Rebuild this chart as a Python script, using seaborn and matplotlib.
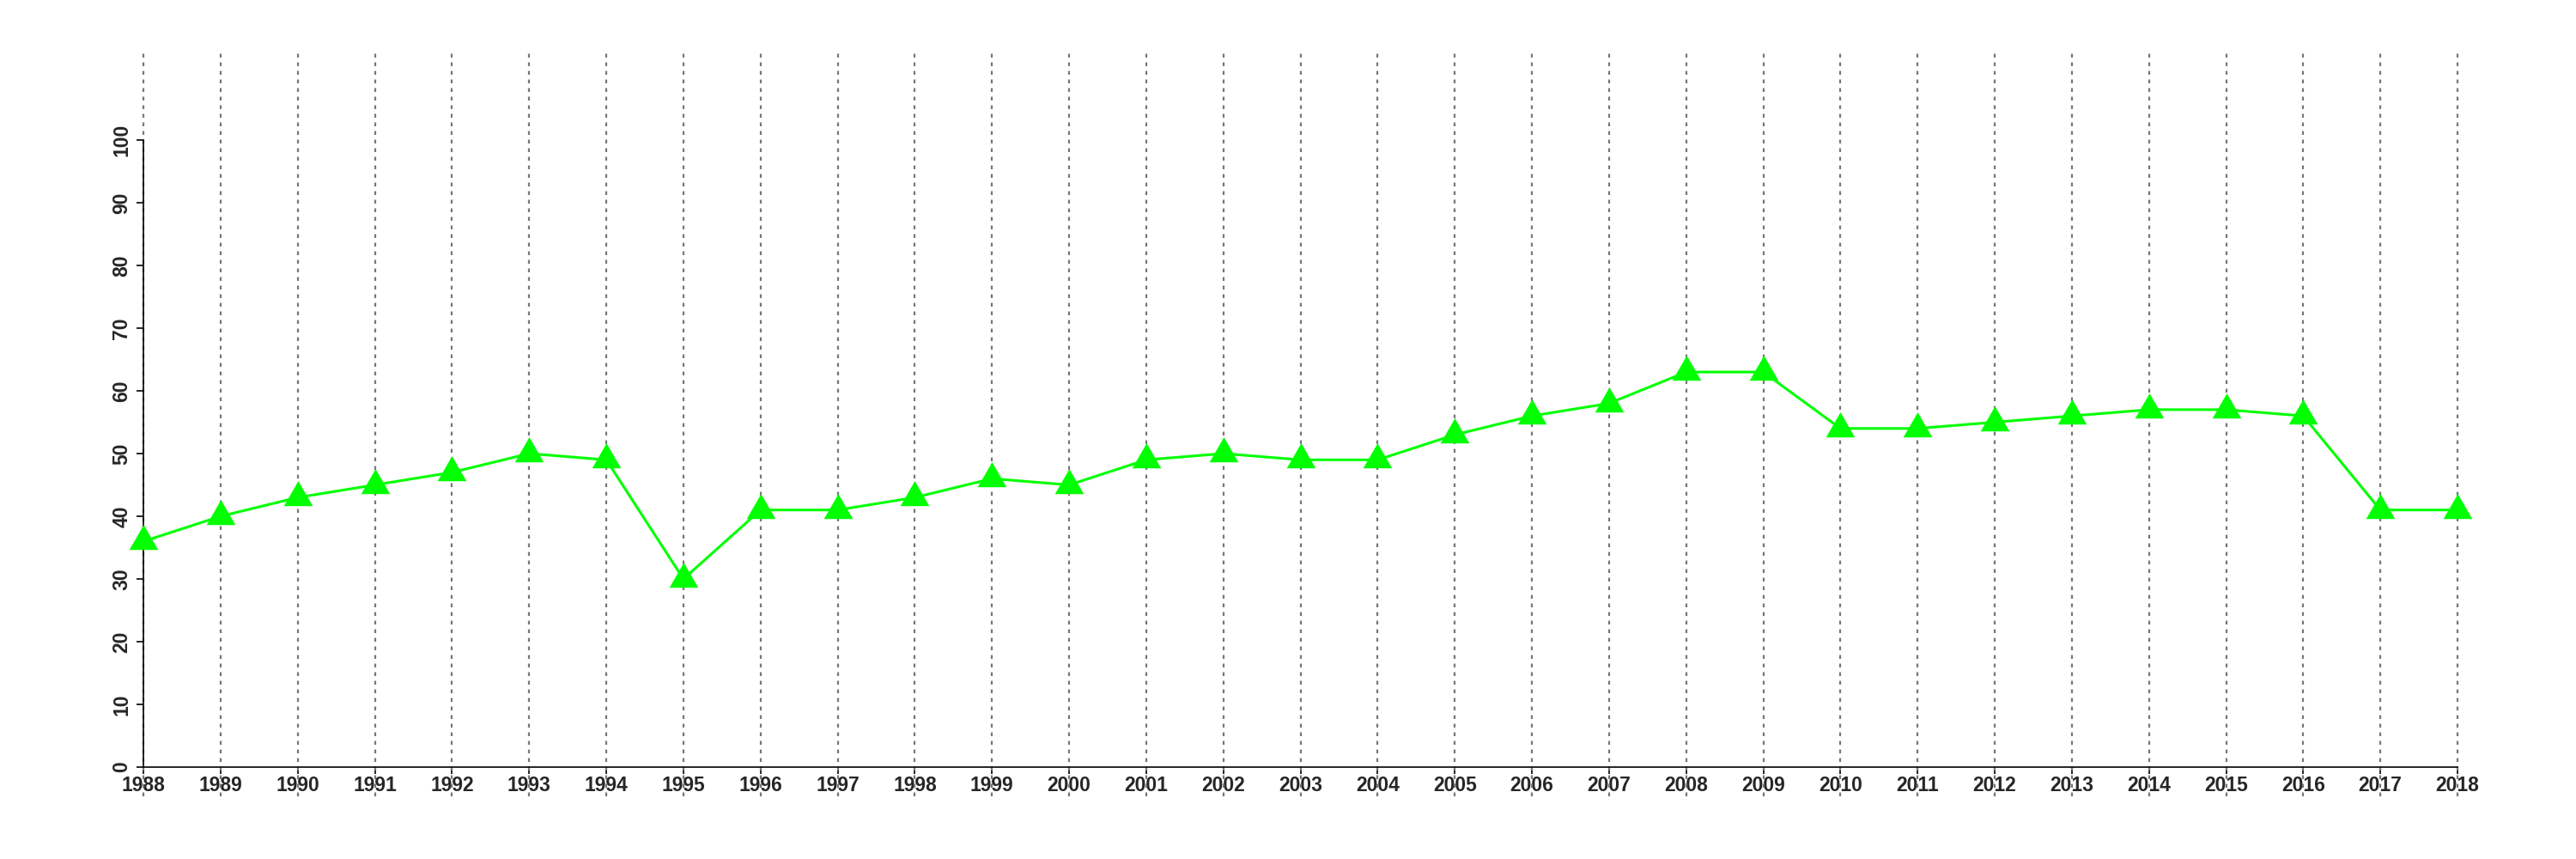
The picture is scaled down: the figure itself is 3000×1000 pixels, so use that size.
import seaborn as sns
import pandas as pd
import matplotlib.pyplot as plt

# Data
years = list(range(1988, 2019))
values = [36, 40, 43, 45, 47, 50, 49, 30, 41, 41, 43, 46, 45, 49, 50, 49,
          49, 53, 56, 58, 63, 63, 54, 54, 55, 56, 57, 57, 56, 41, 41]
y_ticks = list(range(0, 101, 10))

df = pd.DataFrame({"year": years, "value": values})

sns.set_style("ticks")
plt.rcParams["font.family"] = ["Liberation Sans", "DejaVu Sans"]

fig = plt.figure(figsize=(30, 10), dpi=100)
ax = fig.add_axes([0.0557, 0.107, 0.8983, 0.730])

# dotted vertical lines running past the plot box
for yr in years:
    ax.axvline(yr, ymin=-0.047, ymax=1.141, color="#777777", lw=1.6,
               linestyle=(0, (2, 2.5)), clip_on=False, zorder=1)

sns.lineplot(data=df, x="year", y="value", color="#00ff00", lw=2.2,
             marker=(3, 0, 0), markersize=28, markeredgewidth=0,
             markerfacecolor="#00ff00", clip_on=False, zorder=3, ax=ax)

ax.set_xlim(1988, 2018)
ax.set_ylim(0, 100)
ax.set_xticks(years)
ax.set_yticks(y_ticks)
ax.set_xticklabels([str(y) for y in years], fontsize=16.5, fontweight="bold")
ax.set_yticklabels([str(v) for v in y_ticks], fontsize=16.5, fontweight="bold",
                   rotation=90, va="center")
ax.tick_params(axis="both", direction="out", length=6, width=1.2, color="black")
ax.tick_params(axis="x", pad=1)
ax.tick_params(axis="y", pad=4)
ax.set_xlabel("")
ax.set_ylabel("")
for side in ["top", "right"]:
    ax.spines[side].set_visible(False)
for side in ["left", "bottom"]:
    ax.spines[side].set_linewidth(1.2)
    ax.spines[side].set_color("black")

plt.savefig("out.png", dpi=100)
